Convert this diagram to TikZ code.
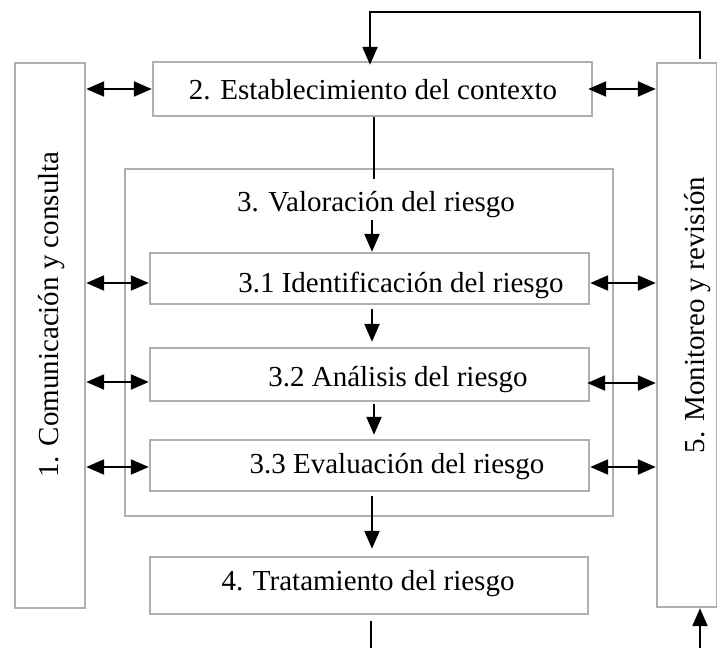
\documentclass[tikz,border=0pt]{standalone}
\usepackage{fontspec}
\setmainfont{Liberation Serif}
\usetikzlibrary{arrows.meta,positioning}

\definecolor{gris}{RGB}{175,175,175}
\tikzset{
  caja/.style={draw=gris, line width=2.4pt, inner sep=0pt},
  texto/.style={font=\fontsize{29}{32}\selectfont, inner sep=2pt},
  flecha/.style={line width=2.2pt, -{Triangle[length=18pt,width=15pt]}},
  dflecha/.style={line width=2.2pt, {Triangle[length=18pt,width=15pt]}-{Triangle[length=18pt,width=15pt]}},
  linea/.style={line width=1.2pt}
}

\begin{document}
\begin{tikzpicture}[x=1pt,y=-1pt]
	\useasboundingbox (0,0) rectangle (717,648);
	% cajas
	\node[caja, minimum width=70pt, minimum height=545pt] (com) at (50,335.5) {};
	\node[caja, minimum width=439pt, minimum height=54pt] (est) at (372.5,89) {};
	\node[caja, minimum width=60pt, minimum height=544pt] (mon) at (687,335) {};
	\node[caja, minimum width=488pt, minimum height=347pt] (val) at (369,342.5) {};
	\node[caja, minimum width=439pt, minimum height=51pt] (ide) at (369.5,278.5) {};
	\node[caja, minimum width=439pt, minimum height=53pt] (ana) at (369.5,374.5) {};
	\node[caja, minimum width=439pt, minimum height=51pt] (eva) at (369.5,465.5) {};
	\node[caja, minimum width=438pt, minimum height=57pt] (tra) at (369,585.5) {};

	% textos
	\node[texto, rotate=90] (comtxt) at (52,314.5) {1. Comunicación y consulta};
	\node[texto] (esttxt) at (373,90) {2. Establecimiento del contexto};
	\node[texto] (valtxt) at (376,205) {3. Valoración del riesgo};
	\node[texto] (idetxt) at (401,285) {3.1 Identificación del riesgo};
	\node[texto] (anatxt) at (398,380) {3.2 Análisis del riesgo};
	\node[texto] (evatxt) at (397,467) {3.3 Evaluación del riesgo};
	\node[texto] (tratxt) at (368,584) {4. Tratamiento del riesgo};
	\node[texto, rotate=90] (montxt) at (698,315) {5. Monitoreo y revisión};

	% puntos libres
	\coordinate (fb) at (700,12);
	\coordinate (valtop) at (374,179);
	\coordinate (abajo) at (371,648);
	\coordinate (abajoder) at (700,648);

	% flechas dobles
	\draw[dflecha] (com.east |- est) -- (est.west);
	\draw[dflecha] (est.east) ++(-5,0) -- (mon.west |- est);
	\draw[dflecha] (com.east |- 0,283) -- (ide.west |- 0,283);
	\draw[dflecha] (com.east |- 0,382) -- (ana.west |- 0,382);
	\draw[dflecha] (com.east |- 0,467) -- (eva.west |- 0,467);
	\draw[dflecha] (ide.east |- 0,283) -- (mon.west |- 0,283);
	\draw[dflecha] (ana.east |- 0,383) ++(-3,0) -- (mon.west |- 0,383);
	\draw[dflecha] (eva.east |- 0,467) -- (mon.west |- 0,467);

	% flujo
	\draw[linea] (est.south -| valtop) -- (valtop);
	\draw[flecha] (valtxt.south -| 372,0) -- (ide.north -| 372,0);
	\draw[flecha, shorten <=4pt, shorten >=5pt] (ide.south -| 372,0) -- (ana.north -| 372,0);
	\draw[flecha, shorten <=2pt, shorten >=4pt] (ana.south -| 374,0) -- (eva.north -| 374,0);
	\draw[flecha, shorten <=4pt, shorten >=7pt] (eva.south -| 372,0) -- (tra.north -| 372,0);

	% retroalimentacion
	\draw[linea] (mon.north -| fb) ++(0,-3) -- (fb) -| (est.north -| 370,0);
	\draw[flecha] (fb -| 370,0) -- ([yshift=-4pt]est.north -| 370,0);
	\draw[linea] ([yshift=-6pt]tra.south -| abajo) -- (abajo);
	\draw[flecha] (abajoder) -- (mon.south -| abajoder);
\end{tikzpicture}
\end{document}
